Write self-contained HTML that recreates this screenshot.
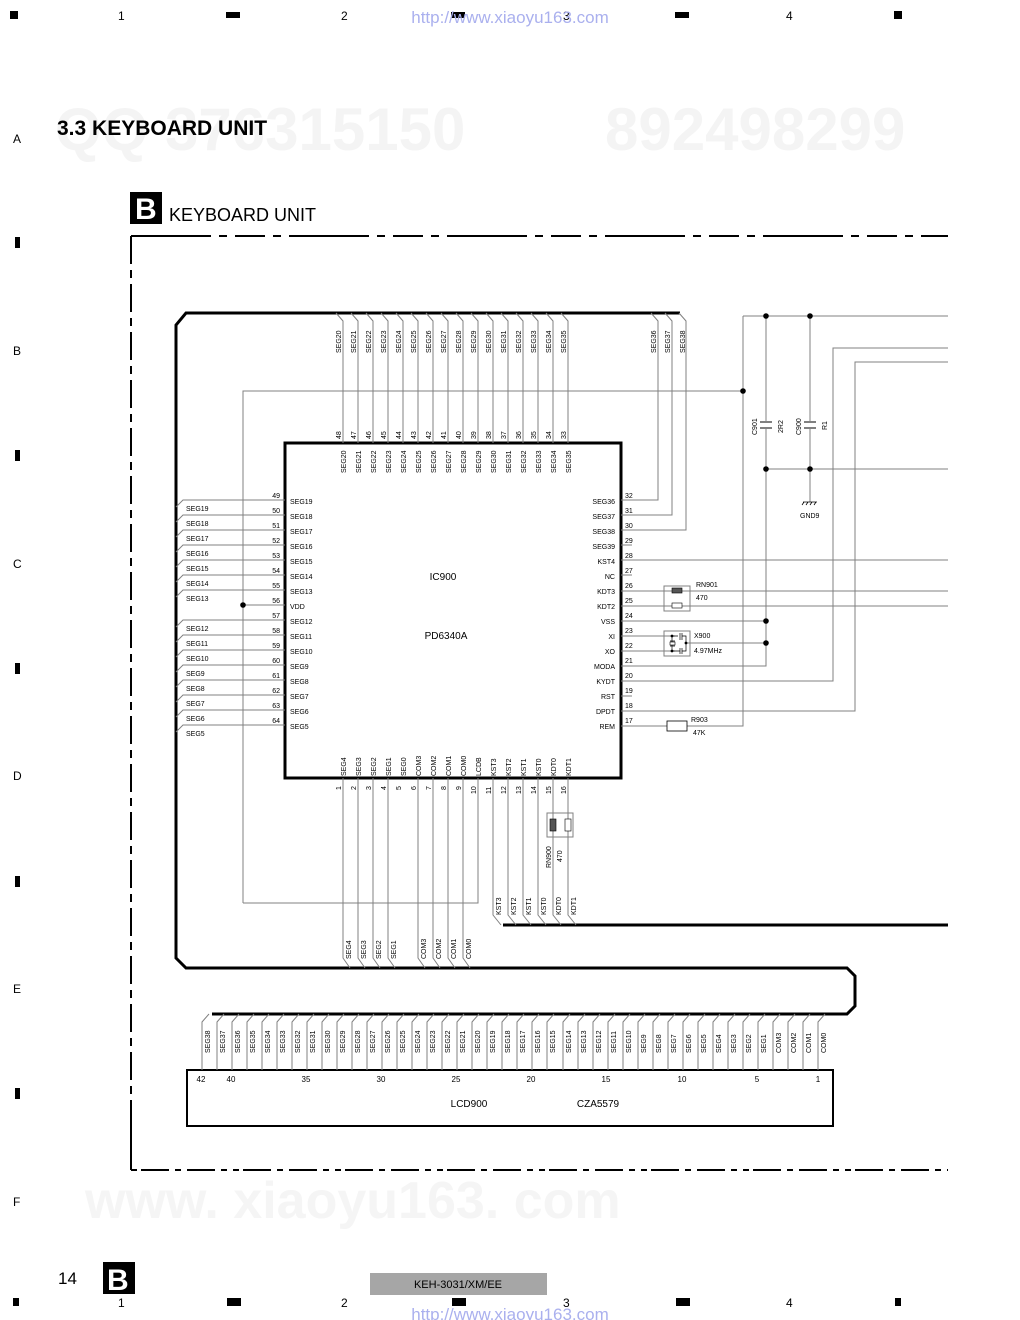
<!DOCTYPE html>
<html><head><meta charset="utf-8"><style>
html,body{margin:0;padding:0;background:#fff}
svg{display:block}
text{font-family:"Liberation Sans",Arial,sans-serif;fill:#000}
.s{font-size:7px}
.n{font-size:7px}
.w{stroke:#808080;stroke-width:1;fill:none}
.b{stroke:#000;stroke-width:3;fill:none;stroke-linejoin:miter}
</style></head><body>
<svg width="1020" height="1320" viewBox="0 0 1020 1320" xmlns="http://www.w3.org/2000/svg">
<g style="font-family:'Liberation Sans',sans-serif;font-weight:bold" fill="#f3f3f3">
<text x="55" y="150" font-size="60" style="fill:#f4f4f4">QQ 376315150</text>
<text x="605" y="150" font-size="60" style="fill:#f4f4f4">892498299</text>
<text x="85" y="1218" font-size="52" style="fill:#f5f5f5">www. xiaoyu163. com</text>
</g>
<g font-size="12">
<rect x="10" y="11" width="8" height="8" fill="#000"/>
<text x="118" y="20">1</text>
<rect x="226" y="12" width="14" height="6" fill="#000"/>
<text x="341" y="20">2</text>
<rect x="451" y="12" width="14" height="6" fill="#000"/>
<text x="563" y="20">3</text>
<rect x="675" y="12" width="14" height="6" fill="#000"/>
<text x="786" y="20">4</text>
<rect x="894" y="11" width="8" height="8" fill="#000"/>
<text x="510" y="23" text-anchor="middle" font-size="17" style="fill:#aab0ee">http://www.xiaoyu163.com</text>
<text x="13" y="143">A</text><text x="13" y="355">B</text><text x="13" y="568">C</text><text x="13" y="780">D</text><text x="13" y="993">E</text><text x="13" y="1206">F</text>
<rect x="15" y="237" width="5" height="11" fill="#000"/>
<rect x="15" y="450" width="5" height="11" fill="#000"/>
<rect x="15" y="663" width="5" height="11" fill="#000"/>
<rect x="15" y="876" width="5" height="11" fill="#000"/>
<rect x="15" y="1088" width="5" height="11" fill="#000"/>
<rect x="13" y="1298" width="6" height="8" fill="#000"/>
<text x="118" y="1307">1</text>
<rect x="227" y="1298" width="14" height="8" fill="#000"/>
<text x="341" y="1307">2</text>
<rect x="452" y="1298" width="14" height="8" fill="#000"/>
<text x="563" y="1307">3</text>
<rect x="676" y="1298" width="14" height="8" fill="#000"/>
<text x="786" y="1307">4</text>
<rect x="895" y="1298" width="6" height="8" fill="#000"/>
<text x="510" y="1320" text-anchor="middle" font-size="17" style="fill:#aab0ee">http://www.xiaoyu163.com</text>
</g>
<text x="57" y="135" font-size="21" font-weight="bold">3.3 KEYBOARD UNIT</text>
<rect x="130" y="192" width="32" height="32" fill="#000"/>
<text x="135" y="219" font-size="30" font-weight="bold" style="fill:#fff">B</text>
<text x="169" y="221" font-size="18">KEYBOARD UNIT</text>
<text x="58" y="1284" font-size="17">14</text>
<rect x="103" y="1262" width="32" height="32" fill="#000"/>
<text x="107" y="1290" font-size="30" font-weight="bold" style="fill:#fff">B</text>
<rect x="370" y="1273" width="177" height="22" fill="#a6a6a6"/>
<text x="458" y="1288" text-anchor="middle" font-size="11">KEH-3031/XM/EE</text>
<path d="M131 1170 V236" stroke="#000" stroke-width="2" stroke-dasharray="70 6 8 6 28 6 8 6 28 6 8 6 28 6 8 6 28 6 8 6 28 6 8 6 28 6 8 6 28 6 8 6 28 6 8 6 28 6 8 6 28 6 8 6 28 6 8 6 28 6 8 6 28 6 8 6 28 6 8 6 28 6 8 6 28 6 8 6 28 6 8 6 28 6 8 6 28 6 8 6 28 6 8 6 28 6 8 6 28 6 8 6 28 6 8 6 28 6 8 6 28 6 8 6 28 6 8 6"/>
<path d="M131 236 H948" stroke="#000" stroke-width="2" stroke-dasharray="80 8 8 8 30 8 8 8"/>
<path d="M131 1170 H948" stroke="#000" stroke-width="2" stroke-dasharray="6 4 28 6 6 6 28 6 6 6"/>
<path class="b" d="M680 313 H186 L176 325 V958 L186 968 H847 L855 976 V1006 L847 1014 H212"/>
<path class="b" d="M503 925 H948"/>
<rect x="285" y="443" width="336" height="335" fill="none" stroke="#000" stroke-width="3"/>
<text x="443" y="580" text-anchor="middle" font-size="10">IC900</text>
<text x="446" y="639" text-anchor="middle" font-size="10">PD6340A</text>
<g class="w">
<path d="M336 313 L343 321 V443"/><path d="M351 313 L358 321 V443"/><path d="M366 313 L373 321 V443"/><path d="M381 313 L388 321 V443"/>
<path d="M396 313 L403 321 V443"/><path d="M411 313 L418 321 V443"/><path d="M426 313 L433 321 V443"/><path d="M441 313 L448 321 V443"/>
<path d="M456 313 L463 321 V443"/><path d="M471 313 L478 321 V443"/><path d="M486 313 L493 321 V443"/><path d="M501 313 L508 321 V443"/>
<path d="M516 313 L523 321 V443"/><path d="M531 313 L538 321 V443"/><path d="M546 313 L553 321 V443"/><path d="M561 313 L568 321 V443"/>
<path d="M651 313 L658 321 V500 H621"/><path d="M665 313 L672 321 V515 H621"/><path d="M679 313 L686 321 V530 H621"/>
</g>
<g class="s">
<text transform="translate(341,353) rotate(-90)">SEG20</text><text transform="translate(356,353) rotate(-90)">SEG21</text><text transform="translate(371,353) rotate(-90)">SEG22</text><text transform="translate(386,353) rotate(-90)">SEG23</text>
<text transform="translate(401,353) rotate(-90)">SEG24</text><text transform="translate(416,353) rotate(-90)">SEG25</text><text transform="translate(431,353) rotate(-90)">SEG26</text><text transform="translate(446,353) rotate(-90)">SEG27</text>
<text transform="translate(461,353) rotate(-90)">SEG28</text><text transform="translate(476,353) rotate(-90)">SEG29</text><text transform="translate(491,353) rotate(-90)">SEG30</text><text transform="translate(506,353) rotate(-90)">SEG31</text>
<text transform="translate(521,353) rotate(-90)">SEG32</text><text transform="translate(536,353) rotate(-90)">SEG33</text><text transform="translate(551,353) rotate(-90)">SEG34</text><text transform="translate(566,353) rotate(-90)">SEG35</text>
<text transform="translate(656,353) rotate(-90)">SEG36</text><text transform="translate(670,353) rotate(-90)">SEG37</text><text transform="translate(685,353) rotate(-90)">SEG38</text>
<text transform="translate(341,439) rotate(-90)">48</text><text transform="translate(356,439) rotate(-90)">47</text><text transform="translate(371,439) rotate(-90)">46</text><text transform="translate(386,439) rotate(-90)">45</text>
<text transform="translate(401,439) rotate(-90)">44</text><text transform="translate(416,439) rotate(-90)">43</text><text transform="translate(431,439) rotate(-90)">42</text><text transform="translate(446,439) rotate(-90)">41</text>
<text transform="translate(461,439) rotate(-90)">40</text><text transform="translate(476,439) rotate(-90)">39</text><text transform="translate(491,439) rotate(-90)">38</text><text transform="translate(506,439) rotate(-90)">37</text>
<text transform="translate(521,439) rotate(-90)">36</text><text transform="translate(536,439) rotate(-90)">35</text><text transform="translate(551,439) rotate(-90)">34</text><text transform="translate(566,439) rotate(-90)">33</text>
<text transform="translate(346,473) rotate(-90)">SEG20</text><text transform="translate(361,473) rotate(-90)">SEG21</text><text transform="translate(376,473) rotate(-90)">SEG22</text><text transform="translate(391,473) rotate(-90)">SEG23</text>
<text transform="translate(406,473) rotate(-90)">SEG24</text><text transform="translate(421,473) rotate(-90)">SEG25</text><text transform="translate(436,473) rotate(-90)">SEG26</text><text transform="translate(451,473) rotate(-90)">SEG27</text>
<text transform="translate(466,473) rotate(-90)">SEG28</text><text transform="translate(481,473) rotate(-90)">SEG29</text><text transform="translate(496,473) rotate(-90)">SEG30</text><text transform="translate(511,473) rotate(-90)">SEG31</text>
<text transform="translate(526,473) rotate(-90)">SEG32</text><text transform="translate(541,473) rotate(-90)">SEG33</text><text transform="translate(556,473) rotate(-90)">SEG34</text><text transform="translate(571,473) rotate(-90)">SEG35</text>
</g>
<path class="w" d="M285 605 H243 M243 903 V391 H743 M743 316 V726 H687 M667 726 H621 M474 903 H243 M478 778 V903 H474"/>
<circle cx="243" cy="605" r="2.8"/><circle cx="743" cy="391" r="2.8"/>
<g class="w">
<path d="M176 507 L183 500 H285"/><path d="M176 522 L183 515 H285"/><path d="M176 537 L183 530 H285"/><path d="M176 552 L183 545 H285"/>
<path d="M176 567 L183 560 H285"/><path d="M176 582 L183 575 H285"/><path d="M176 597 L183 590 H285"/>
<path d="M176 627 L183 620 H285"/><path d="M176 642 L183 635 H285"/><path d="M176 657 L183 650 H285"/><path d="M176 672 L183 665 H285"/>
<path d="M176 687 L183 680 H285"/><path d="M176 702 L183 695 H285"/><path d="M176 717 L183 710 H285"/><path d="M176 732 L183 725 H285"/>
</g>
<g class="s">
<text x="186" y="511">SEG19</text><text x="186" y="526">SEG18</text><text x="186" y="541">SEG17</text><text x="186" y="556">SEG16</text>
<text x="186" y="571">SEG15</text><text x="186" y="586">SEG14</text><text x="186" y="601">SEG13</text>
<text x="186" y="631">SEG12</text><text x="186" y="646">SEG11</text><text x="186" y="661">SEG10</text><text x="186" y="676">SEG9</text>
<text x="186" y="691">SEG8</text><text x="186" y="706">SEG7</text><text x="186" y="721">SEG6</text><text x="186" y="736">SEG5</text>
</g>
<g class="n" text-anchor="end">
<text x="280" y="498">49</text><text x="280" y="513">50</text><text x="280" y="528">51</text><text x="280" y="543">52</text><text x="280" y="558">53</text><text x="280" y="573">54</text><text x="280" y="588">55</text><text x="280" y="603">56</text>
<text x="280" y="618">57</text><text x="280" y="633">58</text><text x="280" y="648">59</text><text x="280" y="663">60</text><text x="280" y="678">61</text><text x="280" y="693">62</text><text x="280" y="708">63</text><text x="280" y="723">64</text>
</g>
<g class="s">
<text x="290" y="504">SEG19</text><text x="290" y="519">SEG18</text><text x="290" y="534">SEG17</text><text x="290" y="549">SEG16</text><text x="290" y="564">SEG15</text><text x="290" y="579">SEG14</text><text x="290" y="594">SEG13</text><text x="290" y="609">VDD</text>
<text x="290" y="624">SEG12</text><text x="290" y="639">SEG11</text><text x="290" y="654">SEG10</text><text x="290" y="669">SEG9</text><text x="290" y="684">SEG8</text><text x="290" y="699">SEG7</text><text x="290" y="714">SEG6</text><text x="290" y="729">SEG5</text>
</g>
<g class="s" text-anchor="end">
<text x="615" y="504">SEG36</text><text x="615" y="519">SEG37</text><text x="615" y="534">SEG38</text><text x="615" y="549">SEG39</text><text x="615" y="564">KST4</text><text x="615" y="579">NC</text><text x="615" y="594">KDT3</text><text x="615" y="609">KDT2</text>
<text x="615" y="624">VSS</text><text x="615" y="639">XI</text><text x="615" y="654">XO</text><text x="615" y="669">MODA</text><text x="615" y="684">KYDT</text><text x="615" y="699">RST</text><text x="615" y="714">DPDT</text><text x="615" y="729">REM</text>
</g>
<g class="n">
<text x="625" y="498">32</text><text x="625" y="513">31</text><text x="625" y="528">30</text><text x="625" y="543">29</text><text x="625" y="558">28</text><text x="625" y="573">27</text><text x="625" y="588">26</text><text x="625" y="603">25</text>
<text x="625" y="618">24</text><text x="625" y="633">23</text><text x="625" y="648">22</text><text x="625" y="663">21</text><text x="625" y="678">20</text><text x="625" y="693">19</text><text x="625" y="708">18</text><text x="625" y="723">17</text>
</g>
<g class="w">
<path d="M621 545 H632 M621 575 H632 M621 696 H632"/>
<path d="M621 560 H948"/><path d="M621 591 H948"/><path d="M621 606 H948"/>
<path d="M621 621 H766"/><path d="M621 636 H675"/><path d="M621 651 H675"/>
<path d="M621 666 H766 V316"/><path d="M686 643 H766"/>
<path d="M621 681 H833 V348 H948"/><path d="M621 711 H855 V362 H948"/>
<path d="M743 316 H948"/><path d="M766 469 H948"/><path d="M810 316 V502"/>
</g>
<rect x="664" y="586" width="26" height="25" fill="none" stroke="#808080"/>
<rect x="672" y="588" width="10" height="5" fill="#555" stroke="#000" stroke-width=".6"/>
<rect x="672" y="603" width="10" height="5" fill="#fff" stroke="#000" stroke-width=".6"/>
<text x="696" y="587" class="s">RN901</text><text x="696" y="600" class="s">470</text>
<rect x="664" y="631" width="26" height="25" fill="none" stroke="#808080"/>
<path d="M672 636 H678 M680 633 V640 M682 633 V640 M682 636 H686 V651 H682 M680 648 V654 M682 648 V654 M680 651 H672 M672 636 V651 M670 641 H675 M670 646 H675" stroke="#000" stroke-width=".7" fill="none"/>
<rect x="670" y="642" width="5" height="3" fill="#fff" stroke="#000" stroke-width=".6"/>
<circle cx="672" cy="636" r="1.4"/><circle cx="672" cy="651" r="1.4"/><circle cx="686" cy="643" r="1.4"/>
<text x="694" y="638" class="s">X900</text><text x="694" y="653" class="s">4.97MHz</text>
<rect x="667" y="721" width="20" height="10" fill="#fff" stroke="#000" stroke-width=".8"/>
<text x="691" y="722" class="s">R903</text><text x="693" y="735" class="s">47K</text>
<circle cx="766" cy="316" r="2.8"/><circle cx="810" cy="316" r="2.8"/><circle cx="766" cy="469" r="2.8"/><circle cx="810" cy="469" r="2.8"/>
<circle cx="766" cy="621" r="2.8"/><circle cx="766" cy="643" r="2.8"/>
<rect x="760" y="421" width="12" height="8" fill="#fff"/><path d="M760 422 H772 M760 428 H772" stroke="#000"/>
<rect x="804" y="421" width="12" height="8" fill="#fff"/><path d="M804 422 H816 M804 428 H816" stroke="#000"/>
<text transform="translate(757,435) rotate(-90)" class="s">C901</text><text transform="translate(783,433) rotate(-90)" class="s">2R2</text>
<text transform="translate(801,435) rotate(-90)" class="s">C900</text><text transform="translate(827,430) rotate(-90)" class="s">R1</text>
<path d="M803 502 H817 M804 502 L802 505 M808 502 L806 505 M812 502 L810 505 M816 502 L814 505" stroke="#000" stroke-width=".8"/>
<text x="800" y="518" class="s">GND9</text>
<g class="w">
<path d="M343 778 V958 L350 968"/><path d="M358 778 V958 L365 968"/><path d="M373 778 V958 L380 968"/><path d="M388 778 V958 L395 968"/>
<path d="M418 778 V958 L425 968"/><path d="M433 778 V958 L440 968"/><path d="M448 778 V958 L455 968"/><path d="M463 778 V958 L470 968"/>
<path d="M493 778 V915 L501 925"/><path d="M508 778 V915 L516 925"/><path d="M523 778 V915 L531 925"/><path d="M538 778 V915 L546 925"/><path d="M553 778 V915 L561 925"/><path d="M568 778 V915 L576 925"/>
</g>
<g class="s">
<text transform="translate(346,776) rotate(-90)">SEG4</text><text transform="translate(361,776) rotate(-90)">SEG3</text><text transform="translate(376,776) rotate(-90)">SEG2</text><text transform="translate(391,776) rotate(-90)">SEG1</text>
<text transform="translate(406,776) rotate(-90)">SEG0</text><text transform="translate(421,776) rotate(-90)">COM3</text><text transform="translate(436,776) rotate(-90)">COM2</text><text transform="translate(451,776) rotate(-90)">COM1</text>
<text transform="translate(466,776) rotate(-90)">COM0</text><text transform="translate(481,776) rotate(-90)">LCDB</text><text transform="translate(496,776) rotate(-90)">KST3</text><text transform="translate(511,776) rotate(-90)">KST2</text>
<text transform="translate(526,776) rotate(-90)">KST1</text><text transform="translate(541,776) rotate(-90)">KST0</text><text transform="translate(556,776) rotate(-90)">KDT0</text><text transform="translate(571,776) rotate(-90)">KDT1</text>
<text transform="translate(341,790) rotate(-90)">1</text><text transform="translate(356,790) rotate(-90)">2</text><text transform="translate(371,790) rotate(-90)">3</text><text transform="translate(386,790) rotate(-90)">4</text>
<text transform="translate(401,790) rotate(-90)">5</text><text transform="translate(416,790) rotate(-90)">6</text><text transform="translate(431,790) rotate(-90)">7</text><text transform="translate(446,790) rotate(-90)">8</text>
<text transform="translate(461,790) rotate(-90)">9</text><text transform="translate(476,794) rotate(-90)">10</text><text transform="translate(491,794) rotate(-90)">11</text><text transform="translate(506,794) rotate(-90)">12</text>
<text transform="translate(521,794) rotate(-90)">13</text><text transform="translate(536,794) rotate(-90)">14</text><text transform="translate(551,794) rotate(-90)">15</text><text transform="translate(566,794) rotate(-90)">16</text>
<text transform="translate(351,959) rotate(-90)">SEG4</text><text transform="translate(366,959) rotate(-90)">SEG3</text><text transform="translate(381,959) rotate(-90)">SEG2</text><text transform="translate(396,959) rotate(-90)">SEG1</text>
<text transform="translate(426,959) rotate(-90)">COM3</text><text transform="translate(441,959) rotate(-90)">COM2</text><text transform="translate(456,959) rotate(-90)">COM1</text><text transform="translate(471,959) rotate(-90)">COM0</text>
<text transform="translate(501,915) rotate(-90)">KST3</text><text transform="translate(516,915) rotate(-90)">KST2</text><text transform="translate(531,915) rotate(-90)">KST1</text><text transform="translate(546,915) rotate(-90)">KST0</text><text transform="translate(561,915) rotate(-90)">KDT0</text><text transform="translate(576,915) rotate(-90)">KDT1</text>
<text transform="translate(551,868) rotate(-90)">RN900</text><text transform="translate(562,862) rotate(-90)">470</text>
</g>
<rect x="547" y="813" width="26" height="24" fill="none" stroke="#808080"/>
<rect x="550" y="819" width="6" height="12" fill="#555" stroke="#000" stroke-width=".6"/>
<rect x="565" y="819" width="6" height="12" fill="#fff" stroke="#000" stroke-width=".6"/>
<rect x="187" y="1070" width="646" height="56" fill="none" stroke="#000" stroke-width="2"/>
<g class="w">
<path d="M202 1070 V1022 L209 1014"/><path d="M217 1070 V1022 L224 1014"/><path d="M232 1070 V1022 L239 1014"/><path d="M247 1070 V1022 L254 1014"/><path d="M262 1070 V1022 L269 1014"/><path d="M277 1070 V1022 L284 1014"/><path d="M292 1070 V1022 L299 1014"/>
<path d="M307 1070 V1022 L314 1014"/><path d="M322 1070 V1022 L329 1014"/><path d="M337 1070 V1022 L344 1014"/><path d="M352 1070 V1022 L359 1014"/><path d="M367 1070 V1022 L374 1014"/><path d="M382 1070 V1022 L389 1014"/><path d="M397 1070 V1022 L404 1014"/>
<path d="M412 1070 V1022 L419 1014"/><path d="M427 1070 V1022 L434 1014"/><path d="M442 1070 V1022 L449 1014"/><path d="M457 1070 V1022 L464 1014"/><path d="M472 1070 V1022 L479 1014"/><path d="M487 1070 V1022 L494 1014"/><path d="M502 1070 V1022 L509 1014"/>
<path d="M517 1070 V1022 L524 1014"/><path d="M532 1070 V1022 L539 1014"/><path d="M547 1070 V1022 L554 1014"/><path d="M563 1070 V1022 L570 1014"/><path d="M578 1070 V1022 L585 1014"/><path d="M593 1070 V1022 L600 1014"/><path d="M608 1070 V1022 L615 1014"/>
<path d="M623 1070 V1022 L630 1014"/><path d="M638 1070 V1022 L645 1014"/><path d="M653 1070 V1022 L660 1014"/><path d="M668 1070 V1022 L675 1014"/><path d="M683 1070 V1022 L690 1014"/><path d="M698 1070 V1022 L705 1014"/><path d="M713 1070 V1022 L720 1014"/>
<path d="M728 1070 V1022 L735 1014"/><path d="M743 1070 V1022 L750 1014"/><path d="M758 1070 V1022 L765 1014"/><path d="M773 1070 V1022 L780 1014"/><path d="M788 1070 V1022 L795 1014"/><path d="M803 1070 V1022 L810 1014"/><path d="M818 1070 V1022 L825 1014"/>
</g>
<g class="s">
<text transform="translate(210,1053) rotate(-90)">SEG38</text><text transform="translate(225,1053) rotate(-90)">SEG37</text><text transform="translate(240,1053) rotate(-90)">SEG36</text><text transform="translate(255,1053) rotate(-90)">SEG35</text><text transform="translate(270,1053) rotate(-90)">SEG34</text><text transform="translate(285,1053) rotate(-90)">SEG33</text><text transform="translate(300,1053) rotate(-90)">SEG32</text>
<text transform="translate(315,1053) rotate(-90)">SEG31</text><text transform="translate(330,1053) rotate(-90)">SEG30</text><text transform="translate(345,1053) rotate(-90)">SEG29</text><text transform="translate(360,1053) rotate(-90)">SEG28</text><text transform="translate(375,1053) rotate(-90)">SEG27</text><text transform="translate(390,1053) rotate(-90)">SEG26</text><text transform="translate(405,1053) rotate(-90)">SEG25</text>
<text transform="translate(420,1053) rotate(-90)">SEG24</text><text transform="translate(435,1053) rotate(-90)">SEG23</text><text transform="translate(450,1053) rotate(-90)">SEG22</text><text transform="translate(465,1053) rotate(-90)">SEG21</text><text transform="translate(480,1053) rotate(-90)">SEG20</text><text transform="translate(495,1053) rotate(-90)">SEG19</text><text transform="translate(510,1053) rotate(-90)">SEG18</text>
<text transform="translate(525,1053) rotate(-90)">SEG17</text><text transform="translate(540,1053) rotate(-90)">SEG16</text><text transform="translate(555,1053) rotate(-90)">SEG15</text><text transform="translate(571,1053) rotate(-90)">SEG14</text><text transform="translate(586,1053) rotate(-90)">SEG13</text><text transform="translate(601,1053) rotate(-90)">SEG12</text><text transform="translate(616,1053) rotate(-90)">SEG11</text>
<text transform="translate(631,1053) rotate(-90)">SEG10</text><text transform="translate(646,1053) rotate(-90)">SEG9</text><text transform="translate(661,1053) rotate(-90)">SEG8</text><text transform="translate(676,1053) rotate(-90)">SEG7</text><text transform="translate(691,1053) rotate(-90)">SEG6</text><text transform="translate(706,1053) rotate(-90)">SEG5</text><text transform="translate(721,1053) rotate(-90)">SEG4</text>
<text transform="translate(736,1053) rotate(-90)">SEG3</text><text transform="translate(751,1053) rotate(-90)">SEG2</text><text transform="translate(766,1053) rotate(-90)">SEG1</text><text transform="translate(781,1053) rotate(-90)">COM3</text><text transform="translate(796,1053) rotate(-90)">COM2</text><text transform="translate(811,1053) rotate(-90)">COM1</text><text transform="translate(826,1053) rotate(-90)">COM0</text>
</g>
<g font-size="8" text-anchor="middle">
<text x="201" y="1082">42</text><text x="231" y="1082">40</text><text x="306" y="1082">35</text><text x="381" y="1082">30</text><text x="456" y="1082">25</text>
<text x="531" y="1082">20</text><text x="606" y="1082">15</text><text x="682" y="1082">10</text><text x="757" y="1082">5</text><text x="818" y="1082">1</text>
</g>
<text x="469" y="1107" font-size="10" text-anchor="middle">LCD900</text>
<text x="598" y="1107" font-size="10" text-anchor="middle">CZA5579</text>
</svg>
</body></html>
